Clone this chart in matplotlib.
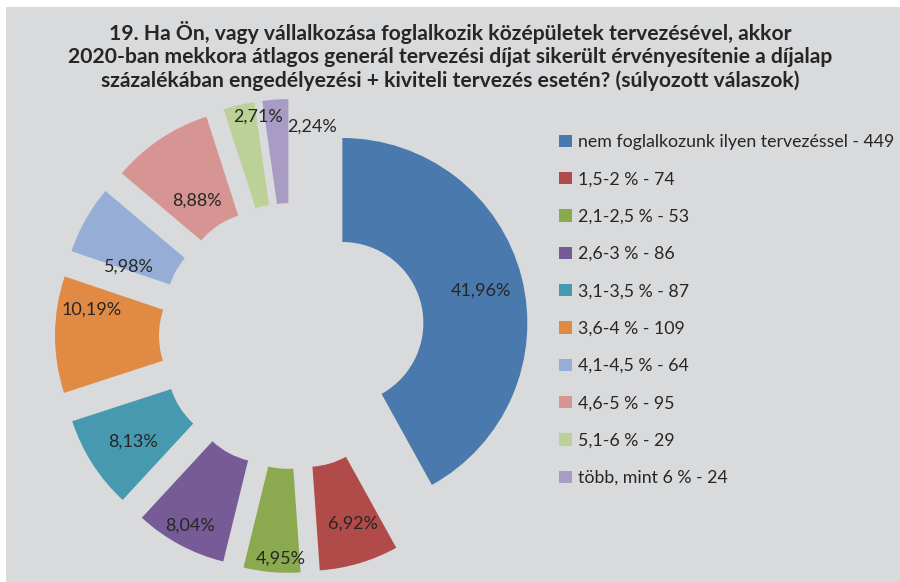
import matplotlib.pyplot as plt
from matplotlib.patches import Rectangle

# adatok (a kép alapján)
kategoriak = ['nem foglalkozunk ilyen tervezéssel', '1,5-2 %', '2,1-2,5 %', '2,6-3 %',
              '3,1-3,5 %', '3,6-4 %', '4,1-4,5 %', '4,6-5 %', '5,1-6 %', 'több, mint 6 %']
darab = [449, 74, 53, 86, 87, 109, 64, 95, 29, 24]
szinek = ['#4A79AE', '#B04B49', '#8BAA4F', '#775B96', '#4699AF',
          '#E08A43', '#96AED6', '#D69593', '#BCD197', '#A99CC4']

cim = ('19. Ha Ön, vagy vállalkozása foglalkozik középületek tervezésével, akkor\n'
       '2020-ban mekkora átlagos generál tervezési díjat sikerült érvényesítenie a díjalap\n'
       'százalékában engedélyezési + kiviteli tervezés esetén? (súlyozott válaszok)')

# a százalék feliratok eltolása pixelben (x jobbra, y lefelé), mint az Excelben
felirat_tolas = [(6, 2), (7, 6), (5, 34), (-13, 23), (0, 4),
                 (-12, -25), (1, 23), (10, 22), (8, -35), (33, -21)]

plt.rcParams['font.family'] = ['Lato', 'DejaVu Sans']

W, H = 900, 582
fig = plt.figure(figsize=(W / 100, H / 100), dpi=100, facecolor='white')
fig.patches.append(Rectangle((6 / W, 0), 1, 1 - 7 / H, transform=fig.transFigure,
                             facecolor='#D9DADC', edgecolor='none', zorder=-5))

ax = fig.add_axes([0, 0, 1, 1])
ax.set_facecolor('none')

R = 185
kozep = (292, H - 336)
labels = [f'{k} - {d}' for k, d in zip(kategoriak, darab)]

wedges, _, autotexts = ax.pie(
    darab, colors=szinek, startangle=90, counterclock=False,
    radius=R, center=kozep, explode=[52] * len(darab),
    wedgeprops=dict(width=104, linewidth=0),
    autopct=lambda p: f'{p:.2f}%'.replace('.', ','), pctdistance=0.74,
    textprops=dict(fontsize=13, color='#262626'))

for t, (dx, dy) in zip(autotexts, felirat_tolas):
    x, y = t.get_position()
    t.set_position((x + dx, y - dy))

ax.set_xlim(0, W)
ax.set_ylim(0, H)
ax.set_aspect('equal')
ax.axis('off')

fig.text(0.5, 1 - 56 / H, cim, ha='center', va='center', fontsize=15.2,
         fontweight='bold', color='#262626', linespacing=1.22)

leg = fig.legend(wedges, labels, loc='upper left', bbox_to_anchor=(552 / W, 1 - 127 / H),
                 frameon=False, fontsize=12.8, labelcolor='#262626',
                 handlelength=0.7, handleheight=0.7, handletextpad=0.35,
                 labelspacing=1.2, borderaxespad=0)

fig.savefig('out.png', dpi=100, facecolor='white')
